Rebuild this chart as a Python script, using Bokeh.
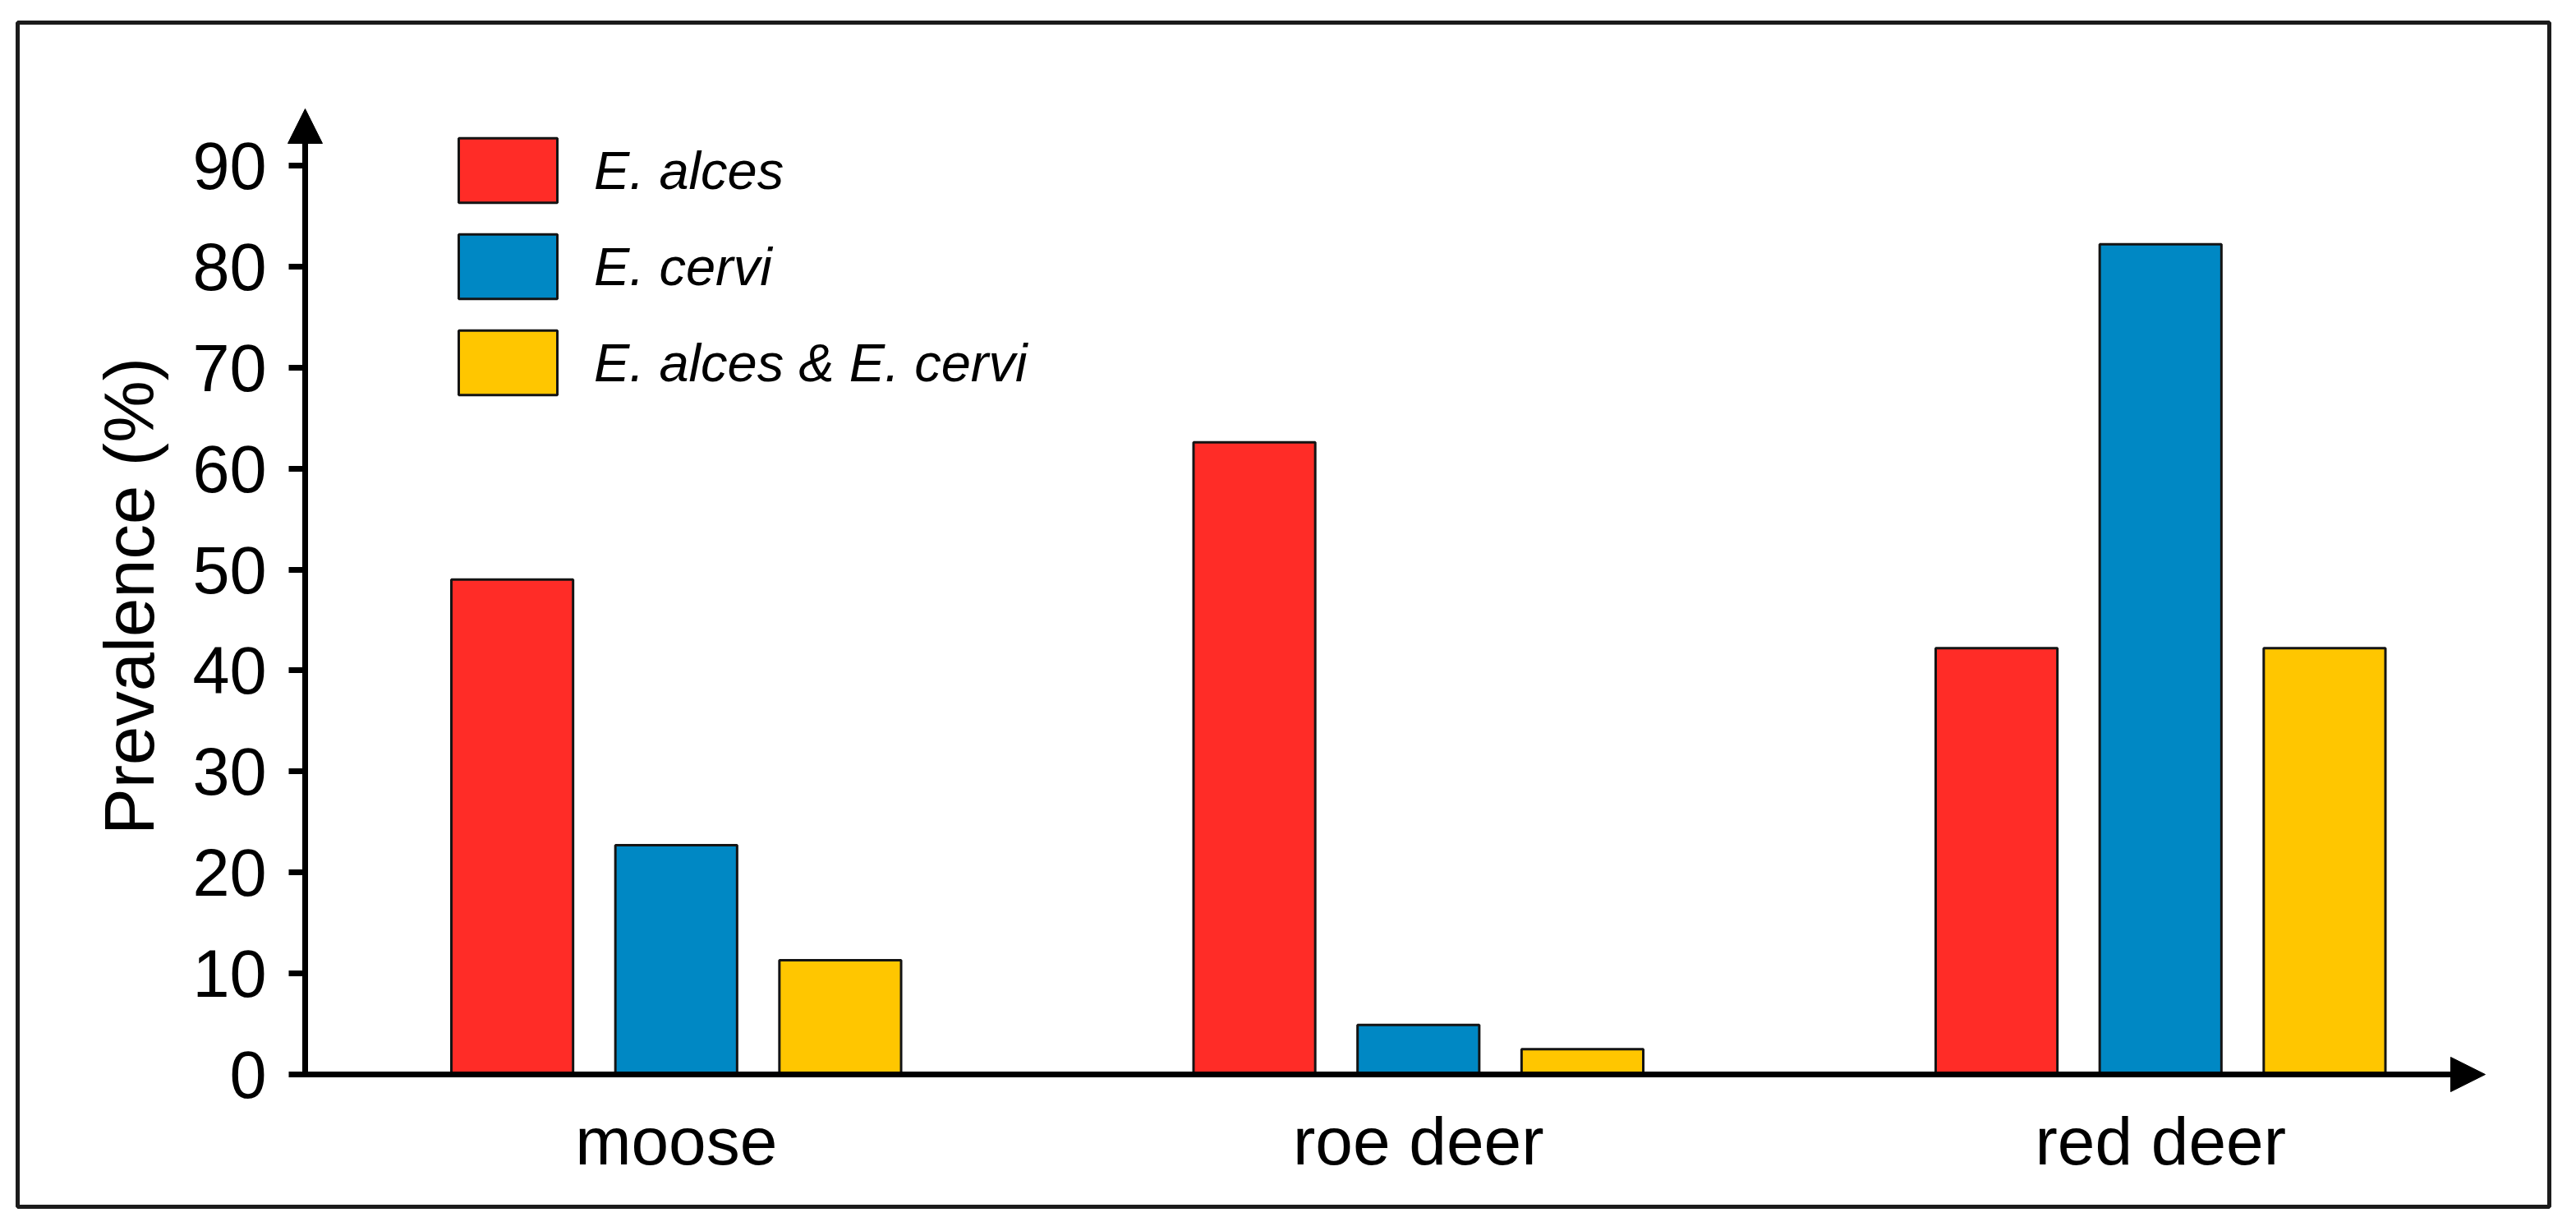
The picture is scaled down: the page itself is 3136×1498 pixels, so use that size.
import math
from bokeh.plotting import figure
from bokeh.models import (Range1d, FixedTicker, Arrow, NormalHead, Legend, LegendItem, Label)
from bokeh.embed import file_html
from bokeh.resources import INLINE

# ---------------- data ----------------
categories = ["moose", "roe deer", "red deer"]
series_names = ["E. alces", "E. cervi", "E. alces & E. cervi"]
e_alces = [49.0, 62.6, 42.2]
e_cervi = [22.7, 4.9, 82.2]
e_alces_and_cervi = [11.3, 2.5, 42.2]
y_ticks = [0, 10, 20, 30, 40, 50, 60, 70, 80, 90]
y_label = "Prevalence (%)"

# ---------------- style / layout ----------------
colors = ["#FF2C27", "#0088C4", "#FFC600"]
FONT = "Liberation Sans"
W, H = 3118, 1480
BOX_L, BOX_R, BOX_T, BOX_B = 21, 3103, 27, 1468   # outer framed box (px)
X0_PX, X_UNIT = 371, 903.5      # px of x=0, px per category
Y0_PX, Y_UNIT = 1307, 12.29     # px of y=0, px per percent
offsets = [-0.221, 0.0, 0.221]
bar_w = 0.164


def px_to_x(px):
    return (px - X0_PX) / X_UNIT


def px_to_y(py):
    return (Y0_PX - py) / Y_UNIT


p = figure(width=W, height=H, output_backend="svg", toolbar_location=None,
           x_range=Range1d(px_to_x(BOX_L), px_to_x(BOX_R)),
           y_range=Range1d(px_to_y(BOX_B), px_to_y(BOX_T)),
           min_border_left=BOX_L, min_border_right=W - BOX_R,
           min_border_top=BOX_T, min_border_bottom=H - BOX_B)
p.outline_line_color = "#1b1b1b"
p.outline_line_width = 5
p.xgrid.visible = False
p.ygrid.visible = False
p.background_fill_color = "white"
p.border_fill_color = "white"

# bars
renderers = []
for j, vals in enumerate([e_alces, e_cervi, e_alces_and_cervi]):
    xs = [i + 0.5 + offsets[j] for i in range(len(categories))]
    r = p.vbar(x=xs, top=vals, bottom=0, width=bar_w, fill_color=colors[j],
               line_color="#141414", line_width=3)
    renderers.append(r)

# axes (placed inside the framed box at x=0 / y=0)
ya = p.yaxis[0]
ya.fixed_location = 0
ya.ticker = FixedTicker(ticks=y_ticks)
ya.axis_line_color = None
ya.major_tick_in = 0
ya.major_tick_out = 20
ya.major_tick_line_width = 7
ya.major_tick_line_color = "black"
ya.minor_tick_line_color = None
ya.major_label_standoff = 27
ya.major_label_text_font = FONT
ya.major_label_text_font_size = "81px"
ya.major_label_text_color = "black"

xa = p.xaxis[0]
xa.fixed_location = 0
cat_pos = [i + 0.5 for i in range(len(categories))]
xa.ticker = FixedTicker(ticks=cat_pos)
xa.major_label_overrides = {pos: name for pos, name in zip(cat_pos, categories)}
xa.axis_line_color = None
xa.major_tick_line_color = None
xa.major_tick_in = 0
xa.major_tick_out = 0
xa.minor_tick_line_color = None
xa.major_label_standoff = 35
xa.major_label_text_font = FONT
xa.major_label_text_font_size = "82px"
xa.major_label_text_color = "black"

# y axis title
p.add_layout(Label(x=px_to_x(157), y=px_to_y(725), text=y_label, angle=math.pi / 2,
                   text_align="center", text_baseline="alphabetic",
                   text_font=FONT, text_font_size="85px", text_color="black"))

# axis lines with arrow heads
p.add_layout(Arrow(x_start=0, y_start=px_to_y(Y0_PX + 3.5), x_end=0, y_end=px_to_y(132),
                   line_width=7, line_color="black",
                   end=NormalHead(size=42, fill_color="black", line_color="black", line_width=1)))
p.add_layout(Arrow(x_start=px_to_x(X0_PX - 3.5), y_start=0, x_end=px_to_x(3025), y_end=0,
                   line_width=7, line_color="black",
                   end=NormalHead(size=42, fill_color="black", line_color="black", line_width=1)))

# legend
legend = Legend(items=[LegendItem(label=series_names[j], renderers=[renderers[j]])
                       for j in range(3)],
                location=(522, 978), orientation="vertical",
                glyph_width=150, glyph_height=98, spacing=19,
                label_standoff=30, label_text_font=FONT, label_text_font_size="65px",
                label_text_font_style="italic", label_text_color="black",
                padding=0, margin=0, border_line_color=None,
                background_fill_alpha=0, label_height=60)
p.add_layout(legend)

open("out.html", "w").write(file_html(p, INLINE))
